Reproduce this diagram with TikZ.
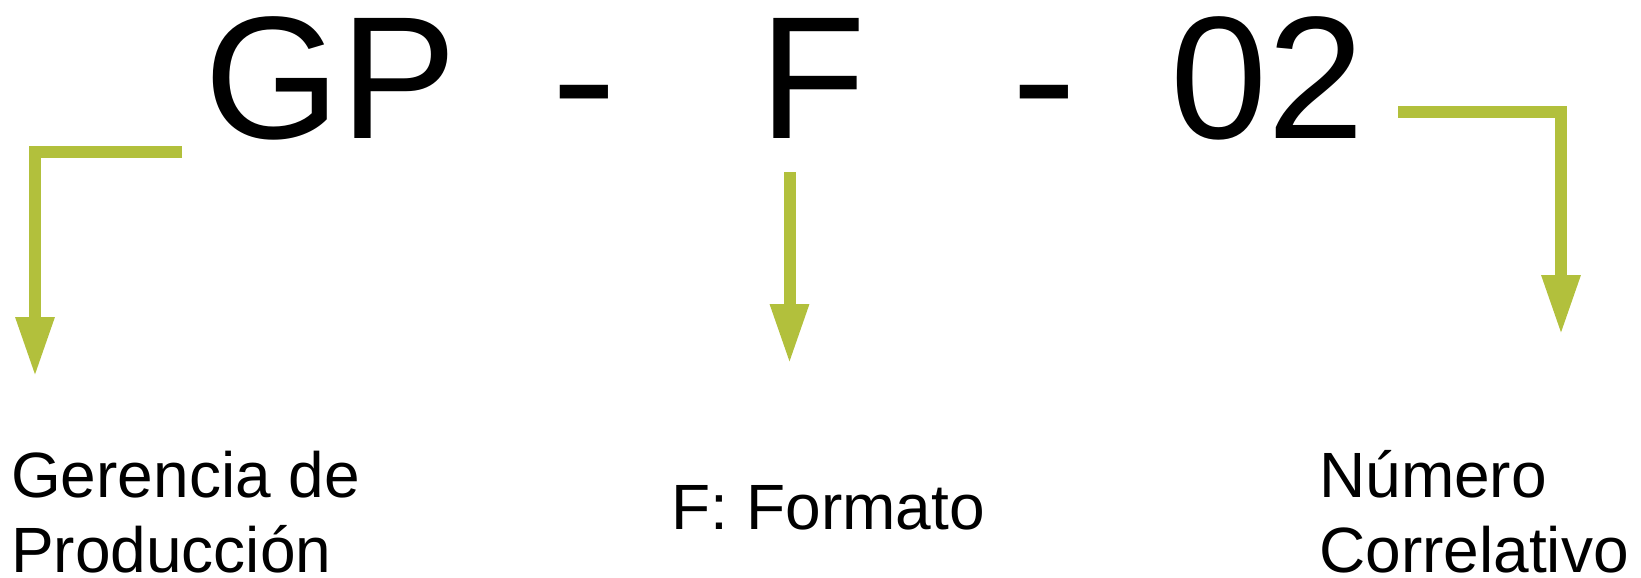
\documentclass[tikz,border=0pt]{standalone}
\usepackage{fontspec}
\setmainfont{Liberation Sans}
\usetikzlibrary{arrows.meta,positioning}
\definecolor{codegreen}{RGB}{178,192,60}

\begin{document}
\begin{tikzpicture}[
  x=1pt, y=-1pt,
  code/.style={inner sep=0pt, anchor=base west, font=\fontsize{174.6}{200}\selectfont},
  hyphen/.style={code, xscale=1.13, transform shape},
  desc/.style={inner sep=0pt, anchor=base west, align=left, font=\fontsize{64}{75}\selectfont},
  flow/.style={-{Triangle[width=36pt, length=60pt]}, line width=12pt, draw=codegreen}
]
\useasboundingbox (0,0) rectangle (1641,578);

% Code GP - F - 02
\node[code] (gp) at (204.5,138.3) {GP};
\node[hyphen] (gpdash) at (551,138.3) {-};
\node[code] (f) at (759,138.3) {F};
\node[hyphen] (fdash) at (1011,138.3) {-};
\node[code] (num) at (1170.6,138.3) {02};

% Descriptions
\node[desc] (gplabel) at (11,572) {Gerencia de\\Producción};
\node[desc] (flabel) at (671.5,529) {F: Formato};
\node[desc] (numlabel) at (1319,572) {Número\\Correlativo};

% Arrows
\coordinate (gpstart) at (182,152);
\coordinate (gpcorner) at (35,152);
\coordinate (gpend) at (35,377);
\coordinate (fstart) at (789.5,172);
\coordinate (fend) at (789.5,364);
\coordinate (numstart) at (1398,112);
\coordinate (numcorner) at (1561,112);
\coordinate (numend) at (1561,335);

\draw[flow] (gpstart) -- (gpcorner) -- (gpend);
\draw[flow] (fstart) -- (fend);
\draw[flow] (numstart) -- (numcorner) -- (numend);

\end{tikzpicture}
\end{document}
